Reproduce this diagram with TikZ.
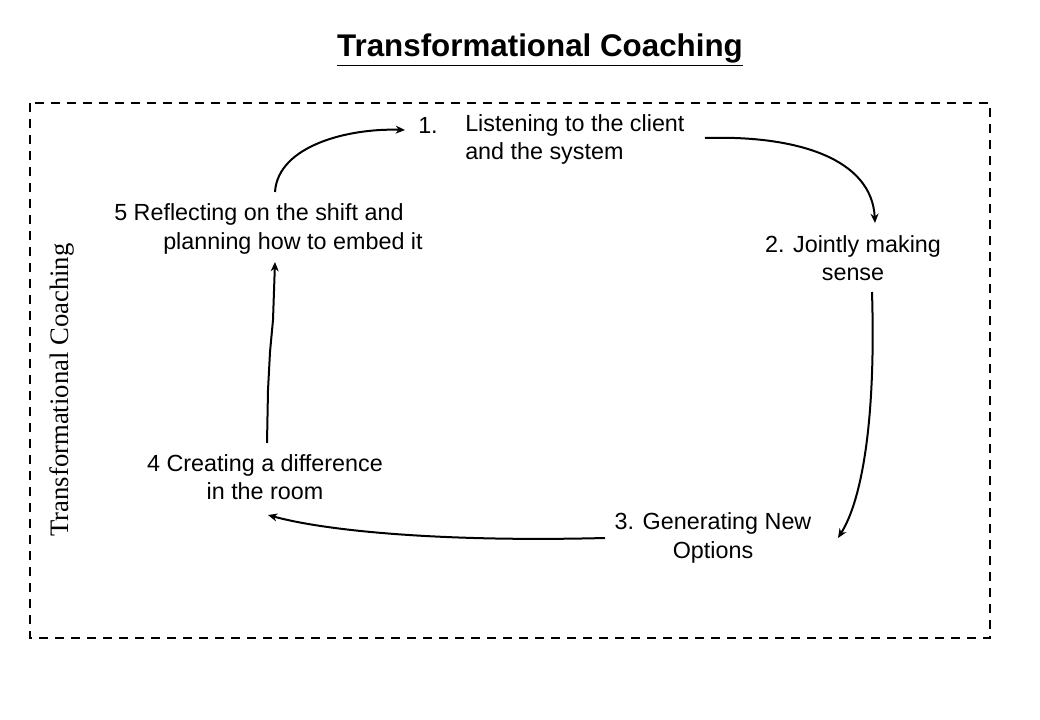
\documentclass[tikz,border=0pt]{standalone}
\usepackage{fontspec}
\setmainfont{Liberation Sans}
\newfontfamily\serifz{Liberation Serif}
\usetikzlibrary{arrows.meta}
\begin{document}
\begin{tikzpicture}[x=0.75pt,y=-0.75pt,
  lbl/.style={inner sep=0pt,font=\fontsize{17.5}{21.5}\selectfont,align=center},
  conn/.style={line width=1.5pt,-{Stealth[length=7pt,width=6pt]}}]
\useasboundingbox (0,0) rectangle (1040,720);
\node[inner sep=0pt,font=\fontsize{23.5}{26}\selectfont\bfseries] (title) at (540,50) {\underline{Transformational Coaching}};
\draw[line width=1.5pt,dash pattern=on 7pt off 5pt] (30,103) rectangle (990,638);
\node[rotate=90,inner sep=0pt,font=\serifz\fontsize{20}{22}\selectfont] (side) at (62,390) {Transformational Coaching};
\node[lbl,anchor=west] (n1a) at (418,125) {1.};
\node[lbl,anchor=west] (n1b) at (465,125) {Listening to the client};
\node[lbl,anchor=west] (n1c) at (465,153) {and the system};
\node[lbl] (n2) at (853,258) {2. Jointly making\\sense};
\node[lbl] (n3) at (713,538) {3. Generating New\\Options};
\node[lbl] (n4) at (265,477) {4 Creating a difference\\in the room};
\node[lbl,anchor=west] (n5a) at (114,214) {5 Reflecting on the shift and};
\node[lbl,anchor=west] (n5b) at (163,243) {planning how to embed it};
\coordinate (a1) at (275,192); \coordinate (a2) at (405,130);
\coordinate (b1) at (705,138); \coordinate (b2) at (875,223);
\coordinate (c1) at (872,292); \coordinate (c2) at (838,538);
\coordinate (d1) at (605,538); \coordinate (d2) at (268,515);
\coordinate (e1) at (267,443); \coordinate (e2) at (275,262);
\draw[conn] (a1) .. controls (278,145) and (350,128) .. (a2);
\draw[conn] (b1) .. controls (800,135) and (872,160) .. (b2);
\draw[conn] (c1) .. controls (876,420) and (862,500) .. (c2);
\draw[conn] (d1) .. controls (450,542) and (330,532) .. (d2);
\draw[conn] (e1) -- (268,390) -- (270,352) -- (273,320) -- (e2);
\end{tikzpicture}
\end{document}
